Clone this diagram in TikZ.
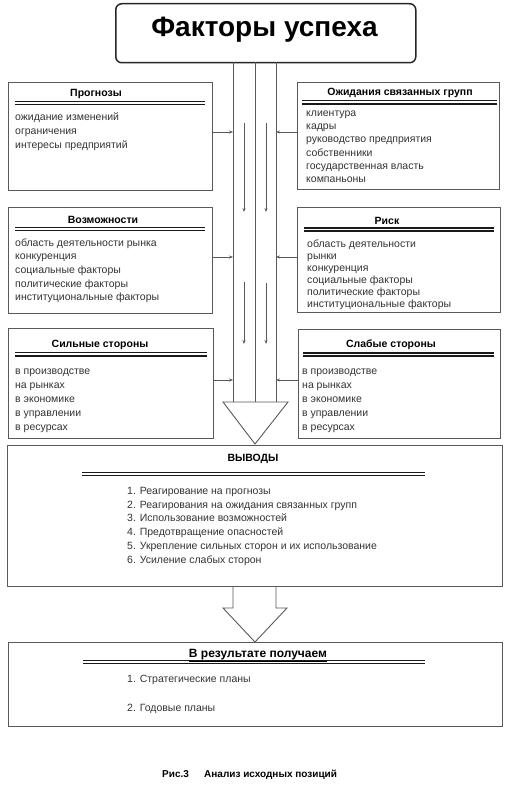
\documentclass[tikz,border=0pt]{standalone}
\usepackage{fontspec}
\setmainfont{Liberation Sans}
\usetikzlibrary{arrows.meta}
\newcommand\dblrule[3]{\draw[rulestyle] (#1,#3) -- (#2,#3); \draw[rulestyle] (#1,#3+3.2) -- (#2,#3+3.2);}
\begin{document}
\begin{tikzpicture}[x=1pt,y=-1pt,
  boxstyle/.style={draw=black!65, line width=0.9pt, rectangle, anchor=north west, inner sep=0pt},
  hdr/.style={font=\bfseries\fontsize{10.5}{12}\selectfont, anchor=base, inner sep=0pt},
  items/.style={font=\fontsize{10.5}{#1}\selectfont, align=left, anchor=north west, inner sep=0pt, text=black!80},
  rulestyle/.style={line width=1.5pt, black!90},
  shaft/.style={draw=black!65, line width=0.9pt},
  conn/.style={draw=black!65, line width=0.8pt, -{Stealth[length=4pt,width=3pt]}},
]
\useasboundingbox (0,0) rectangle (507,797);

% title
\node[draw=black!85, line width=1.5pt, rounded corners=6pt, minimum width=300pt, minimum height=59pt, anchor=north west, inner sep=0pt] (title) at (115,3) {};
\node[font=\bfseries\fontsize{28}{30}\selectfont, anchor=base, inner sep=0pt] (titletext) at (264.5,37) {Факторы успеха};

% central arrow
\draw[shaft] (233,62) -- (233,402);
\draw[shaft] (255,62) -- (255,402);
\draw[shaft] (276,62) -- (276,402);
\draw[shaft] (223,402) -- (288,402) -- (255,444) -- cycle;
\draw[conn] (244,123) -- (244,212);
\draw[conn] (266,123) -- (266,212);
\draw[conn] (244,282) -- (244,344);
\draw[conn] (266,283) -- (266,344);

\coordinate (L1) at (233,132);
\coordinate (R1) at (276,132);
\coordinate (L2) at (233,257);
\coordinate (R2) at (276,257);
\coordinate (L3) at (233,380);
\coordinate (R3) at (276,380);

% Прогнозы
\node[boxstyle, minimum width=204pt, minimum height=108pt] (prog) at (8,82) {};
\node[hdr] (proghdr) at (96,97) {Прогнозы};
\dblrule{15}{205}{101.5}
\node[items=14.3] (progitems) at (15,112) {\rule{0pt}{8pt}ожидание изменений\\ограничения\\интересы предприятий};
\draw[conn] (prog.east |- L1) -- (L1);

% Ожидания связанных групп
\node[boxstyle, minimum width=202pt, minimum height=107pt] (ozh) at (297,82) {};
\node[hdr] (ozhhdr) at (400,96) {Ожидания связанных групп};
\dblrule{302}{497}{100.7}
\node[items=13.35] (ozhitems) at (306,108) {\rule{0pt}{8pt}клиентура\\кадры\\руководство предприятия\\собственники\\государственная власть\\компаньоны};
\draw[conn] (ozh.west |- R1) -- (R1);

% Возможности
\node[boxstyle, minimum width=204pt, minimum height=106pt] (voz) at (8,207) {};
\node[hdr] (vozhdr) at (103,223) {Возможности};
\dblrule{15}{205}{227.3}
\node[items=13.6] (vozitems) at (15,238) {\rule{0pt}{8pt}область деятельности рынка\\конкуренция\\социальные факторы\\политические факторы\\институциональные факторы};
\draw[conn] (voz.east |- L2) -- (L2);

% Риск
\node[boxstyle, minimum width=203pt, minimum height=105pt] (risk) at (297,207) {};
\node[hdr] (riskhdr) at (387,224) {Риск};
\dblrule{304}{494}{228}
\node[items=12] (riskitems) at (307,239) {\rule{0pt}{8pt}область деятельности\\рынки\\конкуренция\\социальные факторы\\политические факторы\\институциональные факторы};
\draw[conn] (risk.west |- R2) -- (R2);

% Сильные стороны
\node[boxstyle, minimum width=205pt, minimum height=110pt] (sil) at (8,328) {};
\node[hdr] (silhdr) at (100,347) {Сильные стороны};
\dblrule{15}{207}{352.7}
\node[items=14] (silitems) at (15,366) {\rule{0pt}{8pt}в производстве\\на рынках\\в экономике\\в управлении\\в ресурсах};
\draw[conn] (sil.east |- L3) -- (L3);

% Слабые стороны
\node[boxstyle, minimum width=202pt, minimum height=109pt] (slab) at (298,329) {};
\node[hdr] (slabhdr) at (391,347) {Слабые стороны};
\dblrule{303}{494}{353}
\node[items=14] (slabitems) at (302,366) {\rule{0pt}{8pt}в производстве\\на рынках\\в экономике\\в управлении\\в ресурсах};
\draw[conn] (slab.west |- R3) -- (R3);

% ВЫВОДЫ
\node[boxstyle, minimum width=495pt, minimum height=141pt] (vyv) at (7,445) {};
\node[hdr] (vyvhdr) at (253,461) {ВЫВОДЫ};
\dblrule{82}{425}{472.3}
\node[items=13.8] (vyvitems) at (127,486) {\rule{0pt}{8pt}1. Реагирование на прогнозы\\2. Реагирования на ожидания связанных групп\\3. Использование возможностей\\4. Предотвращение опасностей\\5. Укрепление сильных сторон и их использование\\6. Усиление слабых сторон};

% bottom arrow
\draw[shaft] (233,586) -- (233,608) -- (223,608) -- (255,642) -- (287,608) -- (276,608) -- (276,586);

% В результате получаем
\node[boxstyle, minimum width=494pt, minimum height=84pt] (res) at (8,642) {};
\node[font=\bfseries\fontsize{12}{14}\selectfont, anchor=base, inner sep=0pt] (reshdr) at (258,657) {\underline{В результате получаем}};
\dblrule{83}{425}{660.5}
\node[items=29] (resitems) at (127,674) {\rule{0pt}{8pt}1. Стратегические планы\\2. Годовые планы};

% caption
\node[font=\bfseries\fontsize{10}{12}\selectfont, anchor=base west, inner sep=0pt] (figno) at (162,777) {Рис.3};
\node[font=\bfseries\fontsize{10}{12}\selectfont, anchor=base west, inner sep=0pt] (figcap) at (204,777) {Анализ исходных позиций};
\end{tikzpicture}
\end{document}
